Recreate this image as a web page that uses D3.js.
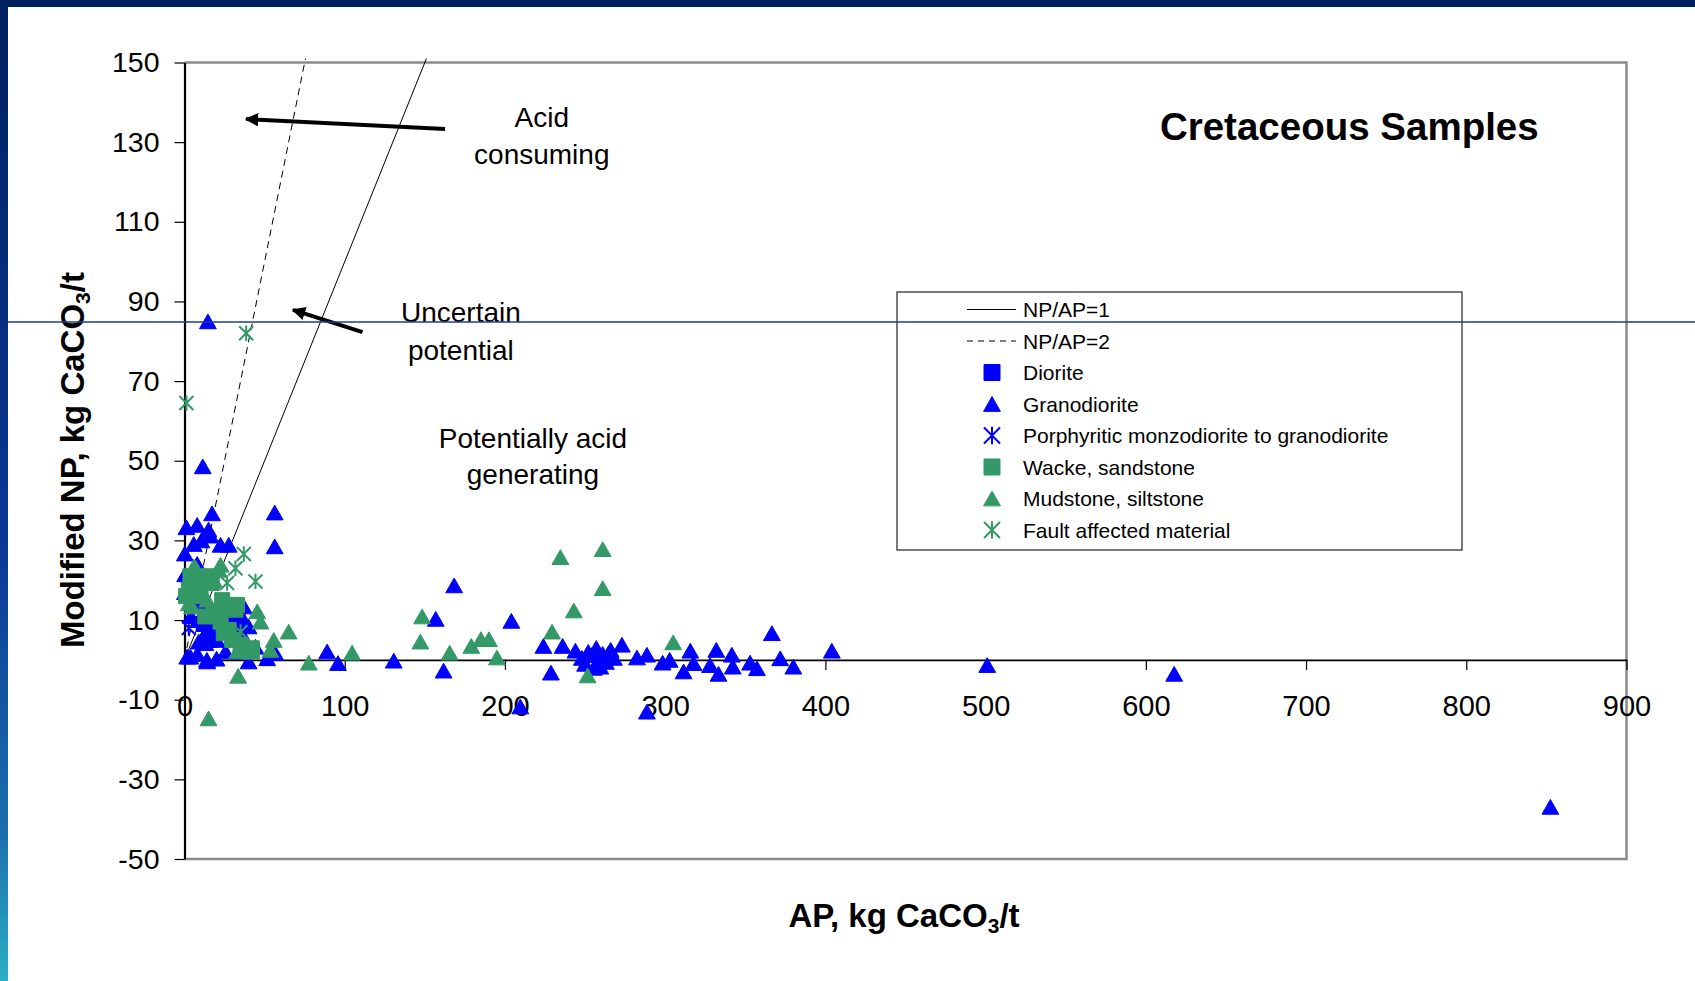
<!DOCTYPE html>
<html>
<head>
<meta charset="utf-8">
<script src="https://cdn.jsdelivr.net/npm/d3@7"></script>
<style>
  body { margin: 0; background: #fff; }
  text { font-family: "Liberation Sans", Arial, sans-serif; }
</style>
</head>
<body>
<script>
// samples as [AP, NP] in kg CaCO3/t
const diorite = [[20, 10], [26, 8], [30, 11], [16, 5], [33, 7], [12, 9]];

const granodiorite = [
  [14.6, 85], [11.4, 48.6], [56.3, 37], [56.3, 28.5], [17.2, 36.8], [1.2, 33.3], [7.9, 33.9],
  [15, 32.7], [5.8, 29.1], [10.5, 30], [16.2, 31.2], [22.5, 28.9], [27.6, 28.9], [0.2, 26.7],
  [0.4, 21.5], [7.9, 24.1], [5.8, 15], [12, 14.2], [15, 7.5], [13, 4.2], [20.3, 5], [36, 8.8],
  [38, 5], [44.3, 3.3], [25.6, 2.1], [8.9, 4.6], [13, 6.7], [37, 13.4], [37, 10], [40, 8.4],
  [3.7, 0.8], [1.7, 0.8], [14, 0], [14.2, -0.4], [40, -0.4], [51.6, 0.4], [56.7, 1.7],
  [0.3, 17], [4, 11], [9, 10], [18, 9], [28, 10], [30, 6], [33, 2], [8, 1.5], [20, 0.3],
  [89, 2.1], [95.8, -0.8], [130.6, -0.2], [161.7, -2.7], [156.8, 10.3], [168.3, 18.7],
  [204, 9.8], [209.6, -11.7], [224, 3.5], [228.7, -3.2], [236, 3.5], [244, 2.3],
  [248, 0.5], [250, -1], [252, 2], [254, 1.2], [255.5, -2], [257, 3], [258.5, 0],
  [259.5, -1.7], [261, 1.5], [263, -0.5], [264.7, 1.7], [266, 2.5], [268, 0.5],
  [273, 3.8], [282.4, 0.6], [288.6, 1.3], [288.6, -13], [298.4, -0.7], [302.8, 0],
  [311.5, -2.9], [315.7, 2.3], [317.7, -0.8], [328, -1.3], [331.9, 2.5], [333.3, -3.5],
  [341.6, 1.3], [342.2, -1.7], [353, -0.7], [357.3, -2.1], [366.6, 6.7], [371.8, 0.4],
  [380, -1.7], [404, 2.3], [501, -1.3], [617.7, -3.5], [852.5, -36.9]
];

const porphyritic = [[2.7, 8]];

const wacke = [
  [3.7, 21], [2.7, 17.6], [7.9, 19.3], [14.2, 21], [17, 19.3], [1, 16], [6, 16], [10, 17],
  [13, 10.9], [19.3, 11.7], [31.8, 12.6], [27.6, 7.5], [36, 3.3], [42, 2.1], [23.5, 15],
  [32.8, 13.8], [26.6, 13.4], [18.3, 12.1], [22.5, 9.6], [24.5, 6.7], [29.8, 5], [35, 3.8],
  [40, 2.1], [42, 2.9]
];

const mudstone = [
  [6.9, 23.2], [22.5, 23.9], [21.4, 22.6], [18.3, 20.1], [15.2, 21], [5.8, 23.4], [2.7, 14.2],
  [14.2, 15.1], [4.8, 13.4], [45.4, 12.2], [47.4, 9.6], [55.7, 5], [53.6, 2.5], [65, 7.1],
  [77.6, -0.7], [33.5, -4], [15, -14.7], [32.8, 2.1], [104.6, 1.8], [148.3, 10.9], [147.2, 4.6],
  [165.5, 1.8], [179, 3.5], [185, 5.2], [190, 5.2], [195, 0.6], [229.4, 7.1], [234.6, 25.8],
  [243, 12.4], [261, 27.8], [261, 18], [251.6, -3.9], [305, 4.4]
];

const fault = [[38.5, 82], [1.2, 64.5], [37, 26.6], [31.8, 23], [44.3, 19.7], [26.6, 19.3], [35, 7]];

const xTicks = [0, 100, 200, 300, 400, 500, 600, 700, 800, 900];
const yTicks = [-50, -30, -10, 10, 30, 50, 70, 90, 110, 130, 150];
const ratios = [1, 2]; // NP/AP lines

const BLUE = "#0000ff", GREEN = "#339966";

const series = [
  { name: "Diorite", data: diorite, shape: "square", color: BLUE },
  { name: "Granodiorite", data: granodiorite, shape: "triangle", color: BLUE },
  { name: "Porphyritic monzodiorite to granodiorite", data: porphyritic, shape: "star", color: BLUE },
  { name: "Wacke, sandstone", data: wacke, shape: "square", color: GREEN },
  { name: "Mudstone, siltstone", data: mudstone, shape: "triangle", color: GREEN },
  { name: "Fault affected material", data: fault, shape: "star", color: GREEN }
];

const W = 1695, H = 981;
const svg = d3.select("body").append("svg").attr("width", W).attr("height", H);

// slide frame
const grad = svg.append("defs").append("linearGradient")
  .attr("id", "side").attr("x1", 0).attr("y1", 0).attr("x2", 0).attr("y2", 1);
grad.append("stop").attr("offset", 0).attr("stop-color", "#00215f");
grad.append("stop").attr("offset", 0.55).attr("stop-color", "#0b3795");
grad.append("stop").attr("offset", 0.85).attr("stop-color", "#1b6fae");
grad.append("stop").attr("offset", 1).attr("stop-color", "#2bb0c4");
svg.append("rect").attr("width", W).attr("height", H).attr("fill", "#fff");
svg.append("rect").attr("width", W).attr("height", 7).attr("fill", "#00215f");
svg.append("rect").attr("width", 8).attr("height", H).attr("fill", "url(#side)");

const x = d3.scaleLinear().domain([0, 900]).range([184.5, 1626.5]);
const y = d3.scaleLinear().domain([-50, 150]).range([859, 62.5]);

// plot border (grey top, right, bottom)
svg.append("path")
  .attr("d", `M${x(0)},${y(150)} H${x(900)} V${y(-50)} H${x(0)}`)
  .attr("fill", "none").attr("stroke", "#8a8a8a").attr("stroke-width", 2.5);

svg.append("clipPath").attr("id", "plot").append("rect")
  .attr("x", x(0)).attr("y", y(150) - 4).attr("width", x(900) - x(0)).attr("height", y(-50) - y(150) + 4);

// NP/AP reference lines
svg.append("g").attr("clip-path", "url(#plot)")
  .selectAll("line").data(ratios).join("line")
  .attr("x1", x(0)).attr("y1", y(0))
  .attr("x2", (r) => x(152 / r)).attr("y2", y(152))
  .attr("stroke", "#000").attr("stroke-width", 1)
  .attr("stroke-dasharray", (r) => (r === 2 ? "7,5" : null));

// axes
const xAxis = svg.append("g")
  .attr("transform", `translate(0,${y(0)})`)
  .call(d3.axisBottom(x).tickValues(xTicks).tickFormat((d) => String(d))
    .tickSize(10).tickSizeOuter(0).tickPadding(26));
const yAxis = svg.append("g")
  .attr("transform", `translate(${x(0)},0)`)
  .call(d3.axisLeft(y).tickValues(yTicks).tickFormat((d) => String(d))
    .tickSize(10).tickSizeOuter(0).tickPadding(15));
[xAxis, yAxis].forEach((g) => {
  g.attr("color", "#000");
  g.selectAll("text").attr("font-family", '"Liberation Sans", Arial, sans-serif');
  g.selectAll(".tick line").attr("stroke-width", 1.2);
});
xAxis.selectAll("text").attr("font-size", 29);
yAxis.selectAll("text").attr("font-size", 28.5);
xAxis.select(".domain").attr("stroke-width", 1.8);
yAxis.select(".domain").attr("stroke-width", 2.2);

// marker shapes
function shapePath(shape, s) {
  if (shape === "triangle") {
    const w = s * 1.05, h = s * 0.92;
    return `M0,${-h / 2}L${w / 2},${h / 2}L${-w / 2},${h / 2}Z`;
  }
  if (shape === "square") return `M${-s / 2},${-s / 2}h${s}v${s}h${-s}Z`;
  const a = s / 2;
  return `M${-a},${-a}L${a},${a}M${-a},${a}L${a},${-a}M0,${-a * 1.1}L0,${a * 1.1}`;
}
function drawMarker(sel, d, s) {
  sel.attr("d", shapePath(d.shape, s))
    .attr("fill", d.shape === "star" ? "none" : d.color)
    .attr("stroke", d.color)
    .attr("stroke-width", d.shape === "star" ? 2 : 1);
}

const marks = svg.append("g");
series.forEach((sr) => {
  marks.append("g").selectAll("path").data(sr.data).join("path")
    .attr("transform", (p) => `translate(${x(p[0])},${y(p[1])})`)
    .call((sel) => drawMarker(sel, sr, sr.shape === "square" ? 15 : sr.shape === "star" ? 14 : 16));
});

// annotations
const notes = [
  { lines: ["Acid", "consuming"], ap: 223, np: [133.7, 124.6] },
  { lines: ["Uncertain", "potential"], ap: 172.5, np: [84.9, 75.3] },
  { lines: ["Potentially acid", "generating"], ap: 217.5, np: [53.1, 44.2] }
];
notes.forEach((n) => {
  n.lines.forEach((t, i) => {
    svg.append("text").attr("x", x(n.ap)).attr("y", y(n.np[i]))
      .attr("text-anchor", "middle").attr("font-size", 28).text(t);
  });
});

svg.append("defs").append("marker")
  .attr("id", "head").attr("viewBox", "0 0 10 10").attr("refX", 9).attr("refY", 5)
  .attr("markerWidth", 3.4).attr("markerHeight", 3.4).attr("markerUnits", "strokeWidth")
  .attr("orient", "auto")
  .append("path").attr("d", "M0,0L10,5L0,10Z").attr("fill", "#000");

const arrows = [
  { from: [162.6, 133.3], to: [38.4, 135.8] },
  { from: [111.1, 82.3], to: [67.7, 87.9] }
];
svg.append("g").selectAll("line").data(arrows).join("line")
  .attr("x1", (a) => x(a.from[0])).attr("y1", (a) => y(a.from[1]))
  .attr("x2", (a) => x(a.to[0])).attr("y2", (a) => y(a.to[1]))
  .attr("stroke", "#000").attr("stroke-width", 4).attr("marker-end", "url(#head)");

// title
svg.append("text").attr("x", x(727)).attr("y", y(130.6))
  .attr("text-anchor", "middle").attr("font-size", 38.5).attr("font-weight", "bold")
  .text("Cretaceous Samples");

// axis titles
const xt = svg.append("text").attr("x", 904).attr("y", 927)
  .attr("text-anchor", "middle").attr("font-size", 33).attr("font-weight", "bold");
xt.append("tspan").text("AP, kg CaCO");
xt.append("tspan").attr("font-size", 21).attr("dy", 6).text("3");
xt.append("tspan").attr("dy", -6).text("/t");

const yt = svg.append("text").attr("transform", "translate(84,460) rotate(-90)")
  .attr("text-anchor", "middle").attr("font-size", 33).attr("font-weight", "bold");
yt.append("tspan").text("Modified NP, kg CaCO");
yt.append("tspan").attr("font-size", 21).attr("dy", 6).text("3");
yt.append("tspan").attr("dy", -6).text("/t");

// legend
const legend = svg.append("g").attr("transform", "translate(897,292)");
legend.append("rect").attr("width", 565).attr("height", 258)
  .attr("fill", "#fff").attr("stroke", "#333").attr("stroke-width", 1.3);
const rowY = (i) => 17.5 + i * 31.5;
const lineItems = ratios.map((r) => ({ name: `NP/AP=${r}`, dash: r === 2 ? "6,5" : null }));
lineItems.forEach((d, i) => {
  legend.append("line").attr("x1", 70).attr("x2", 119).attr("y1", rowY(i)).attr("y2", rowY(i))
    .attr("stroke", "#000").attr("stroke-width", 1).attr("stroke-dasharray", d.dash);
  legend.append("text").attr("x", 126).attr("y", rowY(i)).attr("dy", "0.36em")
    .attr("font-size", 21).text(d.name);
});
series.forEach((sr, j) => {
  const i = j + 2;
  legend.append("path").attr("transform", `translate(95,${rowY(i)})`)
    .call((sel) => drawMarker(sel, sr, 16));
  legend.append("text").attr("x", 126).attr("y", rowY(i)).attr("dy", "0.36em")
    .attr("font-size", 21).text(sr.name);
});

// stray slide rule line across the picture
svg.append("line").attr("x1", 8).attr("x2", W).attr("y1", 322).attr("y2", 322)
  .attr("stroke", "#1d3d92").attr("stroke-width", 1.3);
</script>
</body>
</html>
